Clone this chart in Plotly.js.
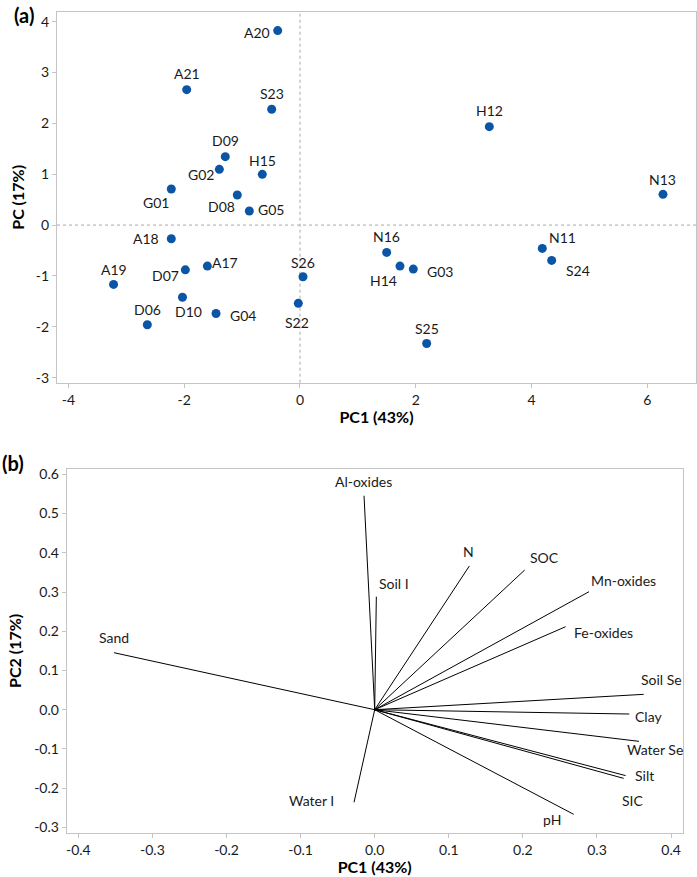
<!DOCTYPE html>
<html>
<head>
<meta charset="utf-8">
<script src="https://cdn.plot.ly/plotly-3.0.1.min.js"></script>
<style>html,body{margin:0;padding:0;background:#fff;}#chart{width:697px;height:877px;}</style>
</head>
<body>
<div id="chart"></div>
<script>
// ---- Panel (a): sample scores ----
const sampleNames = ["A20","A21","S23","D09","G02","H15","G01","D08","G05","H12","N13","A18","A17","D07","A19","D10","G04","D06","S26","S22","N16","H14","G03","N11","S24","S25"];
const samplePC1 = [-0.385,-1.957,-0.489,-1.29,-1.393,-0.651,-2.223,-1.083,-0.875,3.27,6.27,-2.223,-1.60,-1.98,-3.22,-2.03,-1.45,-2.637,0.052,-0.029,1.497,1.727,1.957,4.185,4.347,2.188];
const samplePC2 = [3.825,2.663,2.277,1.345,1.096,0.998,0.709,0.591,0.276,1.935,0.604,-0.27,-0.807,-0.88,-1.167,-1.42,-1.74,-1.96,-1.017,-1.54,-0.538,-0.807,-0.866,-0.459,-0.695,-2.33];
const scoreXTicks = [-4,-2,0,2,4,6];
const scoreXTickText = ["-4","-2","0","2","4","6"];
const scoreYTicks = [-3,-2,-1,0,1,2,3,4];
const scoreYTickText = ["-3","-2","-1","0","1","2","3","4"];

// ---- Panel (b): variable loadings ----
const varNames = ["Al-oxides","Soil I","N","SOC","Mn-oxides","Fe-oxides","Sand","Soil Se","Clay","Water Se","Silt","SIC","pH","Water I"];
const loadPC1 = [-0.0144,0.0022,0.1277,0.2024,0.2892,0.2577,-0.3518,0.363,0.3436,0.3567,0.3387,0.336,0.2686,-0.0279];
const loadPC2 = [0.5455,0.288,0.3663,0.356,0.3008,0.2116,0.1453,0.0392,-0.011,-0.0806,-0.168,-0.175,-0.2667,-0.236];
const loadXTicks = [-0.4,-0.3,-0.2,-0.1,0,0.1,0.2,0.3,0.4];
const loadXTickText = ["-0.4","-0.3","-0.2","-0.1","0.0","0.1","0.2","0.3","0.4"];
const loadYTicks = [-0.3,-0.2,-0.1,0,0.1,0.2,0.3,0.4,0.5,0.6];
const loadYTickText = ["-0.3","-0.2","-0.1","0.0","0.1","0.2","0.3","0.4","0.5","0.6"];

// label offsets in pixels (style only): [dx, dy] with dy positive downwards
const sampleLabelOffsets = [[-20.5,1.6],[0.8,-15.7],[0.3,-15.3],[0.2,-15.7],[-18.8,4.7],[0,-14.3],[-15,13.7],[-15.3,11],[21.5,-1.7],[0,-15.7],[-0.7,-15],[-25.3,-0.4],[17.5,-3.3],[-20,5.6],[0.4,-15.3],[6.4,14.4],[26.5,1.7],[0,-15.4],[-0.2,-14.7],[-1.3,19.4],[0,-15.6],[-16.2,14],[27,2.7],[19.9,-10.6],[26.3,10],[0,-15]];
const varLabelOffsets = [[-0.7,-14],[17.4,-13.4],[-1,-14.3],[20.3,-12.3],[34.3,-11],[37.6,5.6],[0,-15.4],[18.3,-15],[19,2.7],[16,7.7],[18.8,0.3],[9.6,21.7],[-22,5],[-42.7,-2.3]];

const FONT = "Lato, 'Open Sans', sans-serif";
const TXT = "#1a1a1a";
const BORDER = "#c4c4c4";

// vector segments from origin, built from loadings
const vx = [], vy = [];
for (let i = 0; i < loadPC1.length; i++) { vx.push(0, loadPC1[i], null); vy.push(0, loadPC2[i], null); }

const traces = [
  {type:"scatter", mode:"markers", x:samplePC1, y:samplePC2, xaxis:"x", yaxis:"y",
   marker:{color:"#0a55a6", size:9}, hoverinfo:"text", text:sampleNames, showlegend:false},
  {type:"scatter", mode:"lines", x:vx, y:vy, xaxis:"x2", yaxis:"y2",
   line:{color:"#000", width:1}, hoverinfo:"skip", showlegend:false}
];

const annotations = [];
sampleNames.forEach((n,i) => annotations.push({
  x:samplePC1[i], y:samplePC2[i], xref:"x", yref:"y", text:n, showarrow:false,
  xanchor:"center", yanchor:"middle", xshift:sampleLabelOffsets[i][0], yshift:-sampleLabelOffsets[i][1],
  font:{family:FONT, size:14, color:TXT}
}));
varNames.forEach((n,i) => annotations.push({
  x:loadPC1[i], y:loadPC2[i], xref:"x2", yref:"y2", text:n, showarrow:false,
  xanchor:"center", yanchor:"middle", xshift:varLabelOffsets[i][0], yshift:-varLabelOffsets[i][1],
  font:{family:FONT, size:14, color:TXT}
}));
annotations.push({x:0.017, y:0.983, xref:"paper", yref:"paper", text:"(a)", showarrow:false,
  xanchor:"left", yanchor:"middle", font:{family:FONT, size:20, color:"#000", weight:"bold"}});
annotations.push({x:0.0, y:0.472, xref:"paper", yref:"paper", text:"(b)", showarrow:false,
  xanchor:"left", yanchor:"middle", font:{family:FONT, size:20, color:"#000", weight:"bold"}});

const axBase = {showline:true, mirror:true, linecolor:BORDER, linewidth:1, ticks:"outside", ticklen:4,
  tickcolor:BORDER, showgrid:false, zeroline:false, tickfont:{family:FONT, size:14, color:TXT}};
const titleFont = {family:FONT, size:16, color:"#000", weight:"bold"};

const layout = {
  width:697, height:877, margin:{l:0, r:0, t:0, b:0}, paper_bgcolor:"#fff", plot_bgcolor:"#fff",
  showlegend:false,
  xaxis:Object.assign({}, axBase, {domain:[57/697, 696/697], range:[-4.197, 6.84], anchor:"y",
    tickvals:scoreXTicks, ticktext:scoreXTickText,
    title:{text:"PC1 (43%)", font:titleFont, standoff:5}}),
  yaxis:Object.assign({}, axBase, {domain:[1-382.7/877, 1-12/877], range:[-3.10, 4.19], anchor:"x",
    tickvals:scoreYTicks, ticktext:scoreYTickText,
    title:{text:"PC (17%)", font:titleFont, standoff:7}}),
  xaxis2:Object.assign({}, axBase, {domain:[66.7/697, 682.7/697], range:[-0.4157, 0.4157], anchor:"y2",
    tickvals:loadXTicks, ticktext:loadXTickText,
    title:{text:"PC1 (43%)", font:titleFont, standoff:3}}),
  yaxis2:Object.assign({}, axBase, {domain:[1-832.7/877, 1-469/877], range:[-0.3135, 0.6136], anchor:"x2",
    tickvals:loadYTicks, ticktext:loadYTickText,
    title:{text:"PC2 (17%)", font:titleFont, standoff:8}}),
  shapes:[
    {type:"line", xref:"x", yref:"y domain", x0:0, x1:0, y0:0, y1:1, layer:"below", line:{color:"#a8a8a8", width:1, dash:"dot"}},
    {type:"line", xref:"x domain", yref:"y", x0:0, x1:1, y0:0, y1:0, layer:"below", line:{color:"#a8a8a8", width:1, dash:"dot"}}
  ],
  annotations:annotations
};

Plotly.newPlot("chart", traces, layout, {displayModeBar:false, staticPlot:true});
</script>
</body>
</html>
